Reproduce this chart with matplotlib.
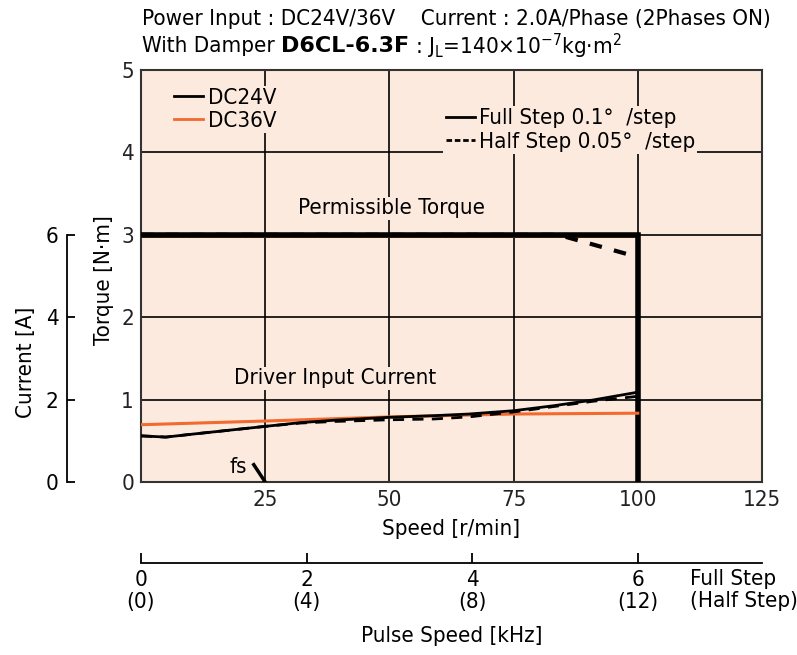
import numpy as np
import matplotlib.pyplot as plt
from matplotlib.lines import Line2D

plt.rcParams['font.family'] = ['DejaVu Sans']
plt.rcParams['font.stretch'] = 'condensed'
plt.rcParams['mathtext.fontset'] = 'dejavusans'

BG = '#FDEADF'
ORANGE = '#F26A2E'
FS = 16

# torque (N·m) vs speed (r/min)
spd_full = [0, 100, 100]
trq_full = [3.0, 3.0, 0.0]
spd_half = [0, 84, 100]
trq_half = [3.0, 3.0, 2.73]
spd_36v = [0, 100]
trq_36v = [2.98, 2.98]

# driver input current (A) vs speed (r/min)
spd_cur = [0, 5, 11, 18, 25, 32, 39, 50, 59, 66, 75, 83, 91, 100]
cur_full = [1.12, 1.09, 1.17, 1.26, 1.35, 1.44, 1.50, 1.57, 1.61, 1.65, 1.73, 1.85, 1.99, 2.18]
cur_half = [1.12, 1.09, 1.17, 1.26, 1.35, 1.43, 1.47, 1.51, 1.53, 1.58, 1.70, 1.83, 1.96, 2.08]
spd_cur36 = [0, 25, 50, 75, 100]
cur_36v = [1.39, 1.48, 1.58, 1.65, 1.67]

# fs marker
fs_spd = [22.7, 25.0]
fs_trq = [0.21, 0.0]

speed_ticks = [0, 25, 50, 75, 100, 125]
torque_ticks = [0, 1, 2, 3, 4, 5]
current_ticks = [0, 2, 4, 6]
pulse_full = [0, 2, 4, 6]
pulse_half = [0, 4, 8, 12]
khz_per_rpm = 0.06

fig = plt.figure(figsize=(7.97, 6.55), dpi=100)
ax = fig.add_axes([141/797, 1 - 482/655, 621/797, 412/655])
ax.set_facecolor(BG)
ax.set_xlim(0, 125)
ax.set_ylim(0, 5)
ax.set_xticks(speed_ticks)
ax.set_xticklabels([''] + [str(t) for t in speed_ticks[1:]])
ax.set_yticks(torque_ticks)
ax.tick_params(length=0, labelsize=FS, colors='#222222')
ax.tick_params(axis='x', pad=6)
ax.tick_params(axis='y', pad=5)
ax.grid(True, color='black', lw=1.2)
ax.set_axisbelow(True)
for s in ax.spines.values():
    s.set_linewidth(1.5)
    s.set_color('#333333')

ax.plot(spd_36v, trq_36v, color=ORANGE, lw=2.2, zorder=3)
ax.plot(spd_full, trq_full, color='black', lw=4, zorder=4, solid_joinstyle='miter')
ax.plot(spd_half, trq_half, color='black', lw=3, ls=(0, (3, 3)), zorder=4)
ax.plot(fs_spd, fs_trq, color='black', lw=2.5, zorder=4)
ax.text(19.5, 0.18, 'fs', fontsize=FS, ha='center', va='center')

ax.text(50.5, 3.32, 'Permissible Torque', fontsize=FS, ha='center', va='center',
        bbox=dict(facecolor=BG, edgecolor='none', pad=1))
ax.text(39, 1.26, 'Driver Input Current', fontsize=FS, ha='center', va='center',
        bbox=dict(facecolor=BG, edgecolor='none', pad=1))

ax.set_ylabel('Torque [N·m]', fontsize=FS)
ax.yaxis.set_label_coords((114 - 141) / 621, 0.49)
ax.set_xlabel('Speed [r/min]', fontsize=FS)
ax.xaxis.set_label_coords(0.5, (482 - 519) / 412)

leg1 = ax.legend([Line2D([], [], color='black', lw=2), Line2D([], [], color=ORANGE, lw=2)],
                 ['DC24V', 'DC36V'], loc='upper left', bbox_to_anchor=(0.05, 0.962),
                 fontsize=FS, frameon=True, facecolor=BG, edgecolor='none', framealpha=1,
                 fancybox=False, borderpad=0.1, handlelength=1.3, handletextpad=0.2,
                 labelspacing=0.15, borderaxespad=0)
ax.add_artist(leg1)
ax.legend([Line2D([], [], color='black', lw=2), Line2D([], [], color='black', lw=2, ls=(0, (2, 1)))],
          ['Full Step 0.1°  /step', 'Half Step 0.05°  /step'], loc='upper left',
          bbox_to_anchor=(0.487, 0.912), fontsize=FS, frameon=True, facecolor=BG,
          edgecolor='none', framealpha=1, fancybox=False, borderpad=0.1,
          handlelength=1.3, handletextpad=0.2, labelspacing=0.15, borderaxespad=0)

# current axis on the far left
ax2 = ax.twinx()
ax2.set_ylim(0, 10)
ax2.plot(spd_cur36, cur_36v, color=ORANGE, lw=2.2, zorder=3)
ax2.plot(spd_cur, cur_full, color='black', lw=2, zorder=4)
ax2.plot(spd_cur, cur_half, color='black', lw=2, ls=(0, (4, 3)), zorder=4)
for k in ['top', 'right', 'bottom']:
    ax2.spines[k].set_visible(False)
ax2.spines['left'].set_visible(True)
ax2.spines['left'].set_position(('axes', (67 - 141) / 621))
ax2.spines['left'].set_bounds(0, 6)
ax2.spines['left'].set_linewidth(1.3)
ax2.yaxis.tick_left()
ax2.set_yticks(current_ticks)
ax2.tick_params(axis='y', direction='in', length=6, width=1.3, labelsize=FS, pad=6)
ax2.set_ylabel('Current [A]', fontsize=FS)
ax2.yaxis.set_label_position('left')
ax2.yaxis.set_label_coords((36 - 141) / 621, 0.29)

# pulse speed axis below
ax3 = ax.twiny()
ax3.set_xlim(0, 125 * khz_per_rpm)
for k in ['top', 'right', 'left']:
    ax3.spines[k].set_visible(False)
ax3.spines['bottom'].set_visible(True)
ax3.spines['bottom'].set_position(('axes', (482 - 563) / 412))
ax3.spines['bottom'].set_linewidth(1.3)
ax3.xaxis.set_ticks_position('bottom')
ax3.xaxis.set_label_position('bottom')
ax3.set_xticks(pulse_full)
ax3.set_xticklabels([f'{a}\n({b})' for a, b in zip(pulse_full, pulse_half)], linespacing=1.1)
ax3.tick_params(axis='x', direction='in', length=7, width=1.3, labelsize=FS, pad=5)
ax3.set_xlabel('Pulse Speed [kHz]', fontsize=FS)
ax3.xaxis.set_label_coords(0.5, (482 - 626) / 412)
ax3.text(690 / 797, 1 - 569 / 655, 'Full Step\n(Half Step)', transform=fig.transFigure,
         fontsize=FS, ha='left', va='top', linespacing=1.1)

# header
fig.text(142 / 797, 1 - 19 / 655, 'Power Input : DC24V/36V    Current : 2.0A/Phase (2Phases ON)',
         fontsize=FS, va='center', ha='left')
r = fig.canvas.get_renderer()
t1 = fig.text(142 / 797, 1 - 46 / 655, 'With Damper ', fontsize=FS, va='center', ha='left')
bb = t1.get_window_extent(r)
t2 = fig.text(bb.x1 / fig.bbox.width, 1 - 46 / 655, 'D6CL-6.3F', fontsize=FS, va='center',
              ha='left', weight='bold', stretch='normal')
bb = t2.get_window_extent(r)
fig.text(bb.x1 / fig.bbox.width, 1 - 46 / 655, r' : J$_\mathregular{L}$=140×10$^{-7}$kg·m$^2$',
         fontsize=FS, va='center', ha='left')

fig.savefig('out.png', dpi=100)
